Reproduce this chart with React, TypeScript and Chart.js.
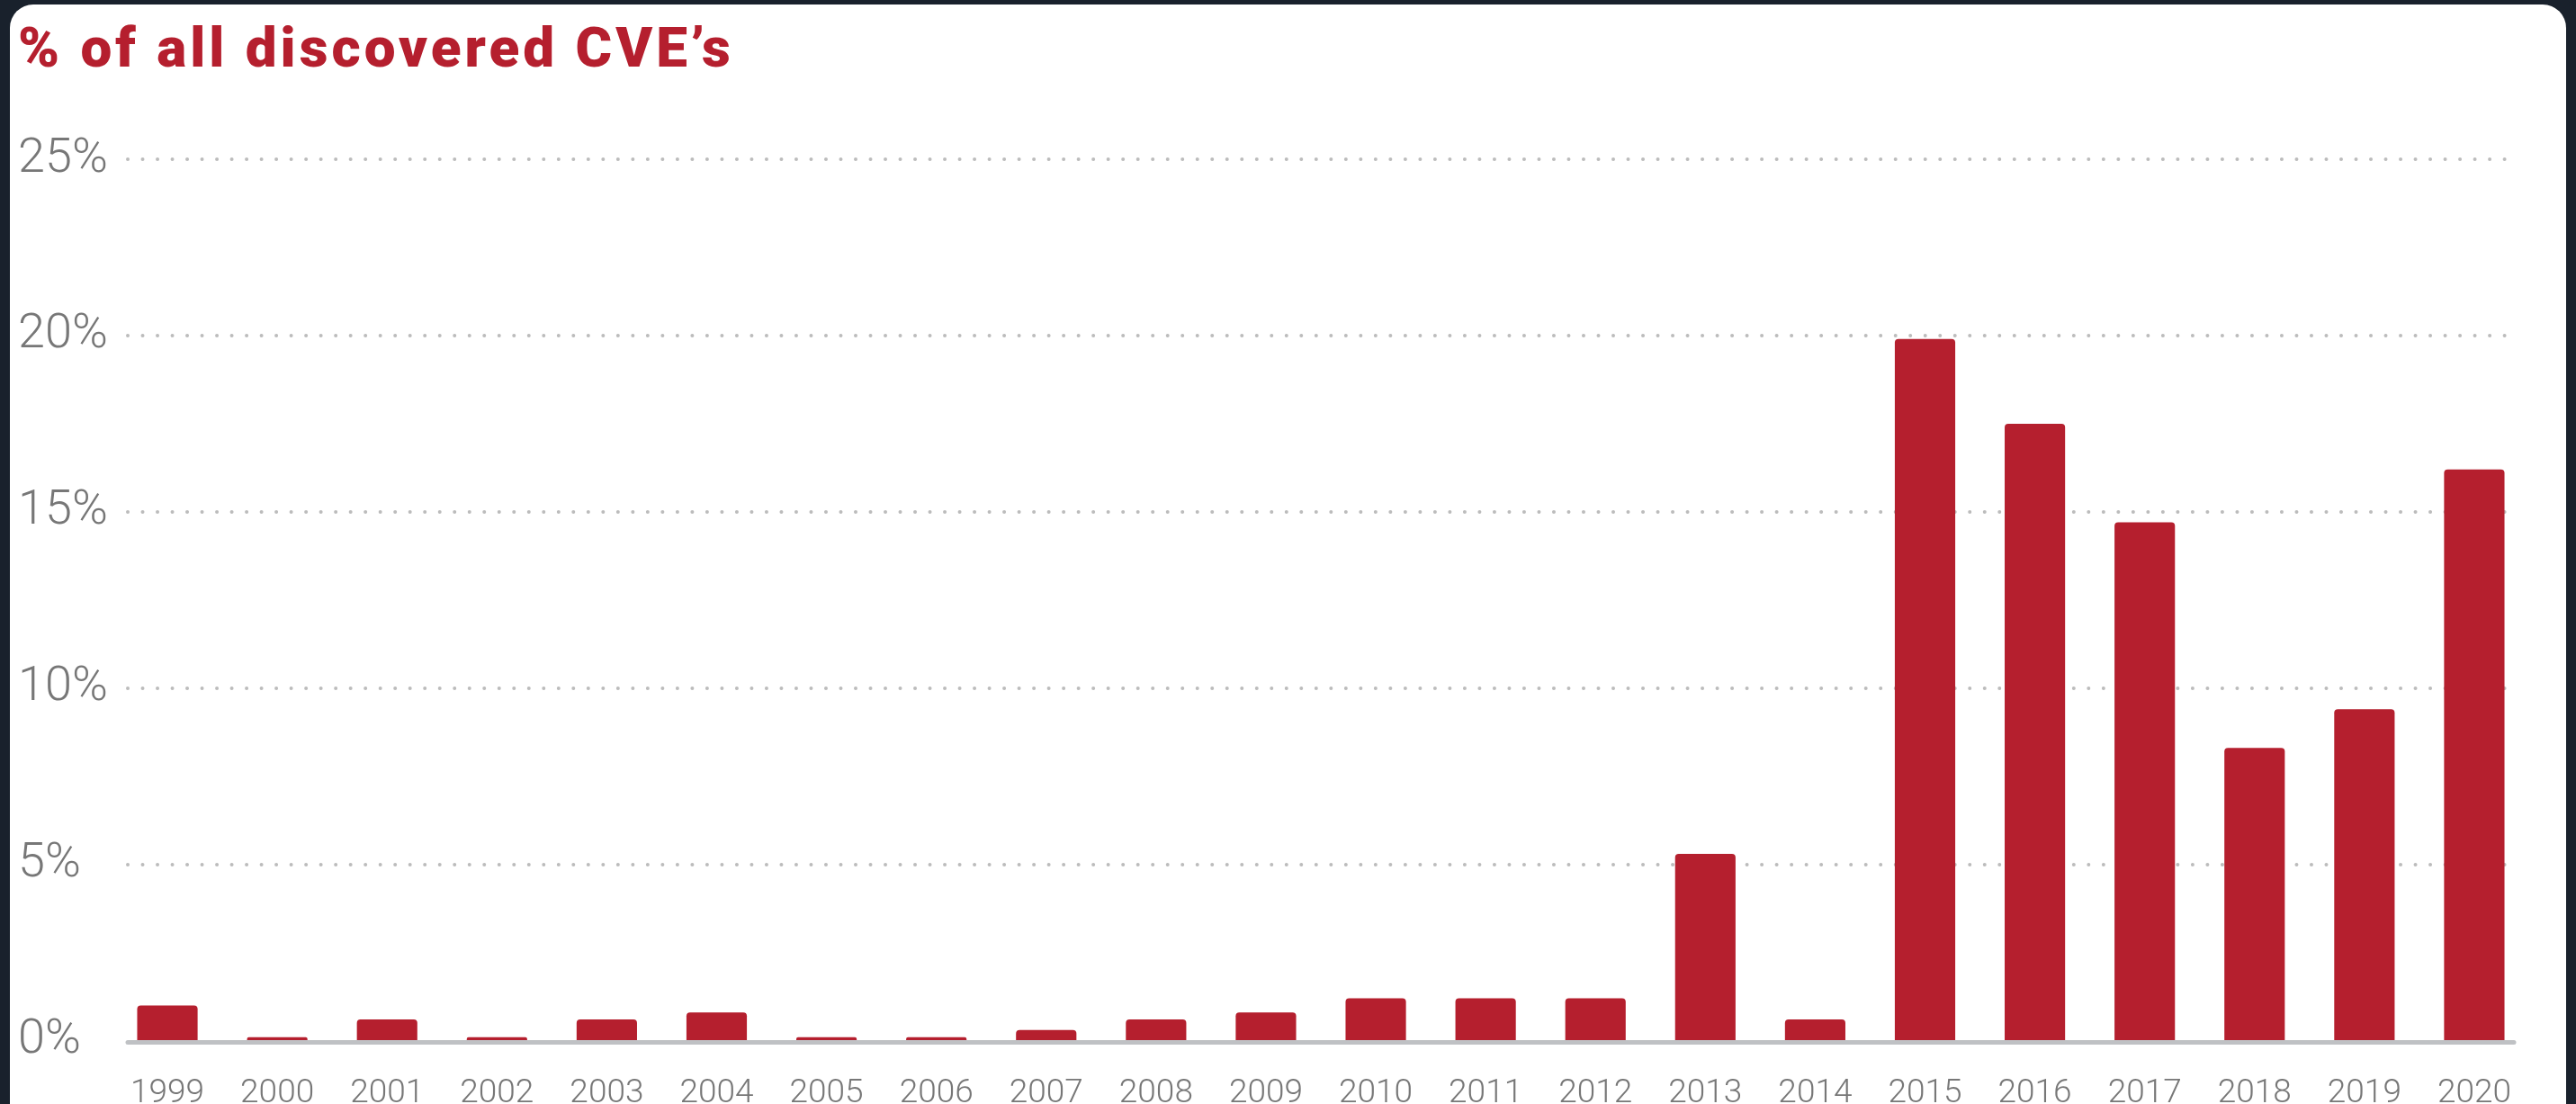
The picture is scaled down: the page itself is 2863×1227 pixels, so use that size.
import React, { useEffect, useRef } from "react";
import { Chart, registerables } from "chart.js";

Chart.register(...registerables);

const chartTitle = "% of all discovered CVE’s";
const years = [
  "1999", "2000", "2001", "2002", "2003", "2004", "2005", "2006", "2007", "2008", "2009",
  "2010", "2011", "2012", "2013", "2014", "2015", "2016", "2017", "2018", "2019", "2020",
];
const shareOfCves = [
  1.0, 0.1, 0.6, 0.1, 0.6, 0.8, 0.1, 0.1, 0.3, 0.6, 0.8,
  1.2, 1.2, 1.2, 5.3, 0.6, 19.9, 17.5, 14.7, 8.3, 9.4, 16.2,
];
const yTickValues = [0, 5, 10, 15, 20, 25];

const CARD_W = 2841;
const CARD_H = 1300;
const CANVAS_H = 1270;

const insetGrid = {
  id: "insetGrid",
  beforeDatasetsDraw(chart: any) {
    const { ctx, chartArea, scales } = chart;
    const y = scales.y;
    const inset = 17;
    ctx.save();
    ctx.strokeStyle = "#bcbcbc";
    ctx.lineWidth = 4;
    ctx.lineCap = "round";
    ctx.setLineDash([0.01, 16.5]);
    y.ticks.forEach((t: any) => {
      if (t.value === 0) return;
      const py = Math.round(y.getPixelForValue(t.value));
      ctx.beginPath();
      ctx.moveTo(chartArea.left + inset, py);
      ctx.lineTo(chartArea.right - inset, py);
      ctx.stroke();
    });
    ctx.restore();
  },
  afterDatasetsDraw(chart: any) {
    const { ctx, chartArea, scales } = chart;
    const y = scales.y;
    const inset = 17;
    const py = y.getPixelForValue(0) + 2;
    ctx.save();
    ctx.strokeStyle = "#bfc1c4";
    ctx.lineWidth = 5;
    ctx.lineCap = "round";
    ctx.setLineDash([]);
    ctx.beginPath();
    ctx.moveTo(chartArea.left + inset, py);
    ctx.lineTo(chartArea.right - inset, py);
    ctx.stroke();
    ctx.restore();
  },
};

export default function App() {
  const canvasRef = useRef<HTMLCanvasElement | null>(null);

  useEffect(() => {
    if (!canvasRef.current) return;
    const chart = new Chart(canvasRef.current, {
      type: "bar",
      data: {
        labels: years,
        datasets: [
          {
            data: shareOfCves,
            backgroundColor: "#b51f2e",
            barPercentage: 0.55,
            categoryPercentage: 1.0,
            borderRadius: { topLeft: 4, topRight: 4, bottomLeft: 0, bottomRight: 0 },
            borderSkipped: "bottom",
          },
        ],
      },
      options: {
        responsive: false,
        maintainAspectRatio: false,
        animation: false,
        devicePixelRatio: 1,
        layout: { padding: { left: 9, right: 41, top: 172, bottom: 0 } },
        plugins: {
          legend: { display: false },
          tooltip: { enabled: false },
          title: { display: false },
        },
        scales: {
          x: {
            grid: { display: false, drawTicks: false },
            border: { display: false },
            ticks: {
              color: "#777777",
              font: { family: "Roboto", size: 37, weight: "300" },
              padding: 37,
              maxRotation: 0,
              autoSkip: false,
            },
          },
          y: {
            min: 0,
            max: 25,
            afterBuildTicks: (scale: any) => {
              scale.ticks = yTickValues.map((v) => ({ value: v }));
            },
            afterFit: (scale: any) => {
              scale.width = 105;
            },
            grid: { display: false, drawTicks: false },
            border: { display: false },
            ticks: {
              callback: (v: any) => `${v}%`,
              crossAlign: "far",
              color: "#777777",
              font: { family: "Roboto", size: 54, weight: "300" },
              padding: 4,
            },
          },
        },
      },
      plugins: [insetGrid],
    });
    return () => chart.destroy();
  }, []);

  return (
    <div
      style={{
        position: "fixed",
        left: 0,
        top: 0,
        width: "100vw",
        height: "100vh",
        background: "#19212c",
        overflow: "hidden",
      }}
    >
      <div
        style={{
          position: "absolute",
          left: 11,
          top: 5,
          width: CARD_W,
          height: CARD_H,
          background: "#ffffff",
          borderRadius: 26,
          overflow: "hidden",
        }}
      >
        <div
          style={{
            position: "absolute",
            left: 9,
            top: 17,
            fontFamily: "Roboto, sans-serif",
            fontWeight: 900,
            fontSize: 62,
            lineHeight: "62px",
            letterSpacing: "4px",
            color: "#b51f2e",
            whiteSpace: "nowrap",
          }}
        >
          {chartTitle}
        </div>
        <canvas
          ref={canvasRef}
          width={CARD_W}
          height={CANVAS_H}
          style={{ position: "absolute", left: 0, top: 0, width: CARD_W, height: CANVAS_H }}
        />
      </div>
    </div>
  );
}
